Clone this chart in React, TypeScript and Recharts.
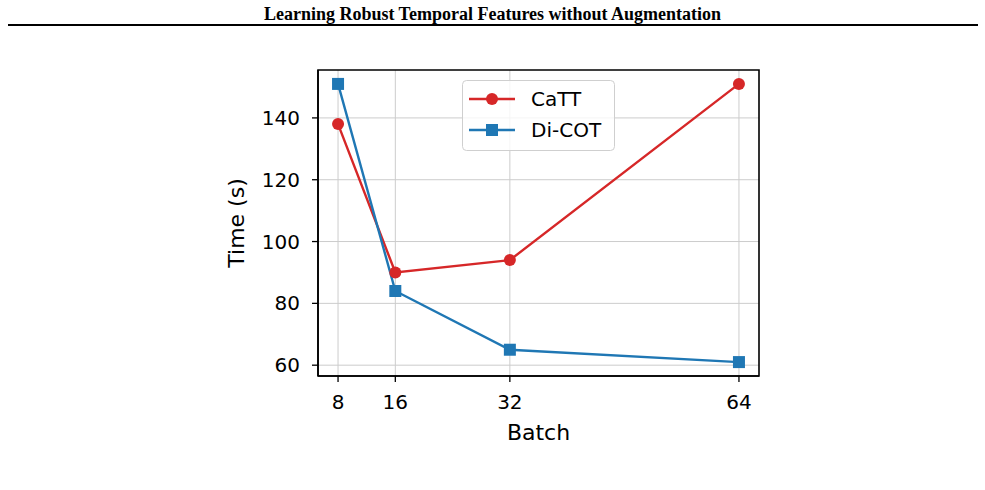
import { CartesianGrid, Label, Line, LineChart, ReferenceArea, XAxis, YAxis } from 'recharts';

const batchSizes = [8, 16, 32, 64];
const cattTimes = [138, 90, 94, 151];
const dicotTimes = [151, 84, 65, 61];
const timeTicks = [60, 80, 100, 120, 140];
const seriesNames = ['CaTT', 'Di-COT'];

const RED = '#d62728';
const BLUE = '#1f77b4';
const FONT = '"DejaVu Sans", sans-serif';

const data = batchSizes.map((batch, i) => ({ batch, catt: cattTimes[i], dicot: dicotTimes[i] }));

// matplotlib-style 5% padding around the data range
const xDomain: [number, number] = [8 - 2.8, 64 + 2.8];
const yDomain: [number, number] = [61 - 4.5, 151 + 4.5];

const SquareDot = (props: any) => {
  const { cx, cy, index } = props;
  return <rect key={`sq-${index}`} x={cx - 6} y={cy - 6} width={12} height={12} fill={BLUE} />;
};

const LegendBox = () => (
  <svg width={154} height={72} style={{ position: 'absolute', left: 462, top: 80, display: 'block' }}>
    <rect x={0.5} y={0.5} width={152} height={70} rx={4} fill="#ffffff" fillOpacity={0.8} stroke="#cfcfcf" strokeWidth={1} />
    <line x1={7} x2={53} y1={19} y2={19} stroke={RED} strokeWidth={2.4} />
    <circle cx={30} cy={19} r={6} fill={RED} />
    <text x={69} y={19} dy="0.36em" fontSize={20} fontFamily={FONT} fill="#000">{seriesNames[0]}</text>
    <line x1={7} x2={53} y1={50} y2={50} stroke={BLUE} strokeWidth={2.4} />
    <rect x={24} y={44} width={12} height={12} fill={BLUE} />
    <text x={69} y={50} dy="0.36em" fontSize={20} fontFamily={FONT} fill="#000">{seriesNames[1]}</text>
  </svg>
);

export default function App() {
  return (
    <div style={{ position: 'absolute', left: 0, top: 0, width: 985, height: 490, background: '#fff' }}>
      <div
        style={{
          position: 'absolute',
          left: 0,
          top: 3,
          width: 985,
          textAlign: 'center',
          fontFamily: '"Liberation Serif", "Times New Roman", serif',
          fontWeight: 'bold',
          fontSize: 18,
          lineHeight: '22px',
        }}
      >
        Learning Robust Temporal Features without Augmentation
      </div>
      <div style={{ position: 'absolute', left: 8, top: 24, width: 970, height: 2, background: '#000' }} />
      <div style={{ position: 'absolute', left: 0, top: 0 }}>
        <LineChart
          width={985}
          height={490}
          data={data}
          margin={{ top: 70, right: 226, bottom: 84, left: 238 }}
          style={{ fontFamily: FONT }}
        >
          <CartesianGrid stroke="#cccccc" strokeWidth={1} verticalValues={batchSizes} horizontalValues={timeTicks} />
          <XAxis
            dataKey="batch"
            type="number"
            domain={xDomain}
            allowDataOverflow
            ticks={batchSizes}
            height={30}
            tickSize={6}
            tickMargin={13}
            tick={{ fill: '#000', fontSize: 20, fontFamily: FONT }}
            tickLine={{ stroke: '#000', strokeWidth: 1.3 }}
            axisLine={{ stroke: '#000', strokeWidth: 1.6 }}
          >
            <Label
              content={({ viewBox }: any) => (
                <text x={viewBox.x + viewBox.width / 2} y={viewBox.y + 64} textAnchor="middle" fontSize={22} fontFamily={FONT} fill="#000">
                  Batch
                </text>
              )}
            />
          </XAxis>
          <YAxis
            type="number"
            domain={yDomain}
            allowDataOverflow
            ticks={timeTicks}
            width={80}
            tickSize={6}
            tickMargin={12}
            tick={{ fill: '#000', fontSize: 20, fontFamily: FONT }}
            tickLine={{ stroke: '#000', strokeWidth: 1.3 }}
            axisLine={{ stroke: '#000', strokeWidth: 1.6 }}
          >
            <Label
              content={({ viewBox }: any) => {
                const x = viewBox.x + 6;
                const y = viewBox.y + viewBox.height / 2;
                return (
                  <text x={x} y={y} transform={`rotate(-90, ${x}, ${y})`} textAnchor="middle" fontSize={22} fontFamily={FONT} fill="#000">
                    Time (s)
                  </text>
                );
              }}
            />
          </YAxis>
          <ReferenceArea x1={xDomain[0]} x2={xDomain[1]} y1={yDomain[0]} y2={yDomain[1]} fill="none" stroke="#000" strokeWidth={1.6} ifOverflow="visible" />
          <Line
            dataKey="catt"
            name={seriesNames[0]}
            stroke={RED}
            strokeWidth={2.4}
            dot={{ r: 6, fill: RED, stroke: 'none' }}
            activeDot={false}
            isAnimationActive={false}
          />
          <Line
            dataKey="dicot"
            name={seriesNames[1]}
            stroke={BLUE}
            strokeWidth={2.4}
            dot={SquareDot}
            activeDot={false}
            isAnimationActive={false}
          />
        </LineChart>
      </div>
      <LegendBox />
    </div>
  );
}
